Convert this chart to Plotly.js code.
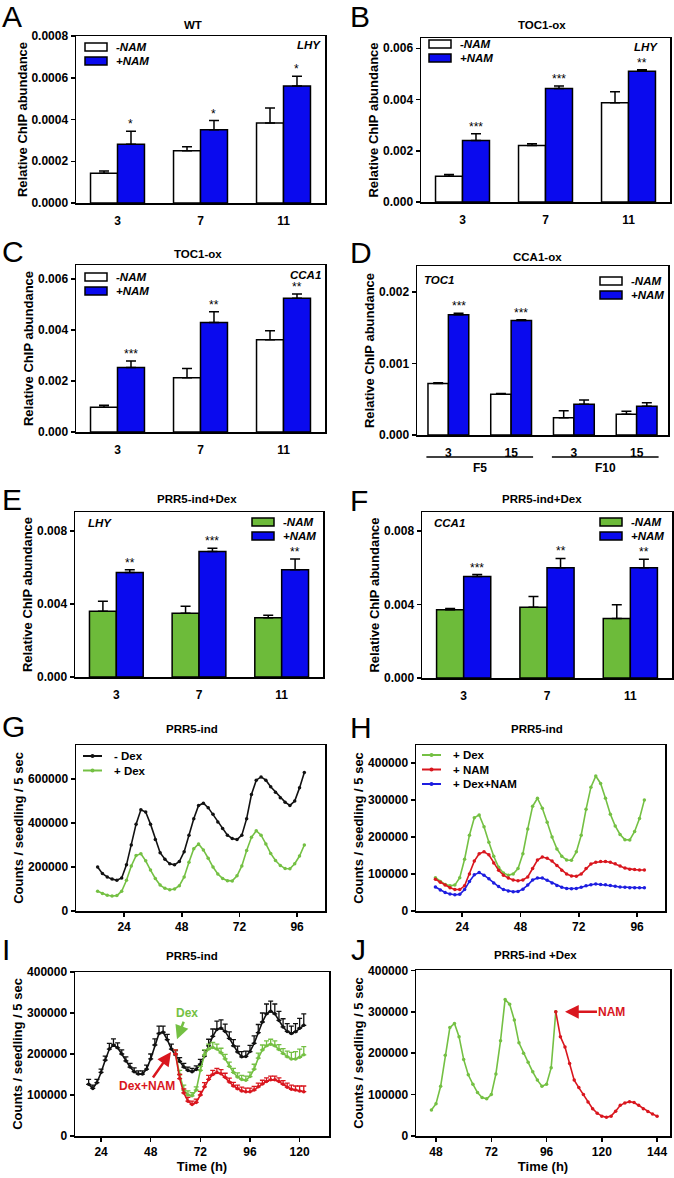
<!DOCTYPE html>
<html>
<head>
<meta charset="utf-8">
<script src="https://cdn.plot.ly/plotly-3.0.1.min.js"></script>
<style>
  body { margin: 0; background: #fff; }
  #fig { width: 674px; height: 1178px; }
</style>
</head>
<body>
<div id="fig"></div>
<script>
/* ---------------- ChIP bar data (A-F) ---------------- */
var dayLabels = ['3', '7', '11'];
var fLabels = ['3', '15', '3', '15'];
var fGroups = ['F5', 'F10'];
var namNames = ['-NAM', '+NAM'];

// A: WT, LHY
var aMinus = [0.000143, 0.00025, 0.000383];
var aMinusErr = [0.00001, 0.00002, 0.000072];
var aPlus = [0.000282, 0.000351, 0.000561];
var aPlusErr = [0.000062, 0.000044, 0.000046];
var aStars = ['*', '*', '*'];

// B: TOC1-ox, LHY
var bMinus = [0.001, 0.0022, 0.00387];
var bMinusErr = [0.00007, 0.00007, 0.00043];
var bPlus = [0.0024, 0.00443, 0.0051];
var bPlusErr = [0.00026, 0.0001, 0.00006];
var bStars = ['***', '***', '**'];

// C: TOC1-ox, CCA1
var cMinus = [0.00097, 0.00213, 0.00362];
var cMinusErr = [0.00008, 0.00036, 0.00035];
var cPlus = [0.00253, 0.00429, 0.00525];
var cPlusErr = [0.00025, 0.00043, 0.00016];
var cStars = ['***', '**', '**'];

// D: CCA1-ox, TOC1 (F5 / F10 fragments)
var dMinus = [0.00072, 0.00057, 0.00024, 0.00029];
var dMinusErr = [0.00001, 0.00001, 0.0001, 0.00004];
var dPlus = [0.00168, 0.0016, 0.00043, 0.0004];
var dPlusErr = [0.00002, 0.00001, 0.00006, 0.00005];
var dStars = ['***', '***', '', ''];

// E: PRR5-ind+Dex, LHY
var eMinus = [0.0036, 0.00349, 0.00324];
var eMinusErr = [0.00055, 0.00039, 0.00014];
var ePlus = [0.00572, 0.00688, 0.00587];
var ePlusErr = [0.00015, 0.00018, 0.00059];
var eStars = ['**', '***', '**'];

// F: PRR5-ind+Dex, CCA1
var fMinus = [0.00371, 0.00385, 0.00324];
var fMinusErr = [0.00008, 0.00059, 0.00075];
var fPlus = [0.00553, 0.00601, 0.00601];
var fPlusErr = [0.0001, 0.0005, 0.00046];
var fStars = ['***', '**', '**'];

/* ---------------- luminescence data (G-J) ---------------- */
var hoursGH = [13, 15, 17, 19, 21, 23, 25, 27, 29, 31, 33, 35, 37, 39, 41, 43, 45, 47, 49, 51,
  53, 55, 57, 59, 61, 63, 65, 67, 69, 71, 73, 75, 77, 79, 81, 83, 85, 87, 89, 91, 93, 95, 97, 99];

var minusDex = [200000, 170000, 155000, 145000, 140000, 150000, 210000, 300000, 395000, 460000,
  450000, 395000, 325000, 265000, 235000, 215000, 210000, 225000, 270000, 345000,
  420000, 480000, 490000, 470000, 440000, 405000, 375000, 345000, 330000, 325000,
  345000, 420000, 530000, 595000, 610000, 595000, 565000, 540000, 515000, 495000,
  480000, 500000, 560000, 630000];

var plusDex = [90000, 80000, 72000, 68000, 70000, 90000, 140000, 205000, 252000, 260000,
  228000, 186000, 148000, 118000, 103000, 97000, 100000, 115000, 155000, 222000,
  283000, 305000, 278000, 240000, 200000, 168000, 148000, 138000, 137000, 160000,
  205000, 275000, 335000, 365000, 345000, 305000, 262000, 230000, 207000, 193000,
  192000, 215000, 250000, 300000];

var plusNam = [86000, 78000, 70000, 63000, 58000, 58000, 68000, 100000, 135000, 155000,
  160000, 152000, 130000, 110000, 97000, 89000, 84000, 82000, 84000, 92000,
  115000, 138000, 146000, 143000, 135000, 123000, 110000, 100000, 95000, 94000,
  100000, 115000, 127000, 132000, 134000, 134000, 132000, 128000, 122000, 116000,
  113000, 112000, 111000, 111000];

var plusDexNam = [65000, 57000, 50000, 46000, 44000, 45000, 58000, 80000, 98000, 104000,
  97000, 87000, 76000, 66000, 58000, 54000, 52000, 53000, 59000, 70000,
  84000, 89000, 89000, 83000, 76000, 69000, 64000, 61000, 60000, 61000,
  64000, 68000, 71000, 73000, 72000, 71000, 69000, 67000, 65000, 64000,
  63000, 63000, 63000, 63000];

// I: control trace and treatments added at ~60 h
var hoursI = [18, 20, 22, 24, 26, 28, 30, 32, 34, 36, 38, 40, 42, 44, 46, 48, 50, 52, 54, 56,
  58, 60, 62, 64, 66, 68, 70, 72, 74, 76, 78, 80, 82, 84, 86, 88, 90, 92, 94, 96,
  98, 100, 102, 104, 106, 108, 110, 112, 114, 116, 118, 120, 122];
var ctrlI = [126000, 116000, 130000, 155000, 185000, 212000, 222000, 215000, 200000, 183000,
  168000, 157000, 151000, 151000, 163000, 188000, 222000, 250000, 253000, 235000,
  212000, 198000, 182000, 168000, 160000, 157000, 162000, 175000, 195000, 220000,
  243000, 260000, 263000, 255000, 238000, 220000, 205000, 193000, 194000, 206000,
  226000, 252000, 278000, 298000, 304000, 298000, 282000, 266000, 255000, 250000,
  254000, 263000, 270000];
var ctrlIErr = [12000, 8000, 8000, 8000, 10000, 14000, 15000, 12000, 10000, 10000,
  9000, 9000, 8000, 8000, 10000, 12000, 15000, 18000, 15000, 13000,
  12000, 10000, 9000, 9000, 8000, 8000, 9000, 12000, 14000, 16000,
  18000, 20000, 20000, 18000, 16000, 15000, 14000, 13000, 13000, 15000,
  18000, 20000, 22000, 24000, 25000, 24000, 22000, 20000, 19000, 18000,
  20000, 24000, 28000];

var hoursTreat = [60, 62, 64, 66, 68, 70, 72, 74, 76, 78, 80, 82, 84, 86, 88, 90, 92, 94, 96, 98,
  100, 102, 104, 106, 108, 110, 112, 114, 116, 118, 120, 122];
var dexI = [200000, 150000, 112000, 100000, 98000, 112000, 160000, 198000, 212000, 216000,
  212000, 203000, 188000, 170000, 155000, 144000, 138000, 136000, 145000, 163000,
  190000, 210000, 220000, 224000, 220000, 211000, 201000, 193000, 188000, 188000,
  192000, 198000];
var dexIErr = [10000, 10000, 12000, 10000, 8000, 8000, 10000, 12000, 12000, 12000,
  12000, 11000, 11000, 10000, 10000, 10000, 10000, 10000, 11000, 12000,
  12000, 12000, 12000, 12000, 12000, 12000, 12000, 14000, 16000, 18000,
  20000, 20000];
var dexNamI = [200000, 140000, 105000, 85000, 77000, 82000, 100000, 120000, 138000, 150000,
  155000, 152000, 143000, 132000, 122000, 115000, 110000, 108000, 108000, 112000,
  120000, 127000, 133000, 137000, 137000, 133000, 126000, 119000, 114000, 112000,
  110000, 108000];
var dexNamIErr = [10000, 10000, 10000, 9000, 8000, 8000, 9000, 10000, 10000, 10000,
  10000, 10000, 10000, 9000, 9000, 9000, 9000, 9000, 9000, 9000,
  9000, 9000, 9000, 9000, 9000, 9000, 9000, 10000, 10000, 10000,
  12000, 14000];

// J: +Dex, then NAM added at ~100 h
var hoursJDex = [46, 48, 50, 52, 54, 56, 58, 60, 62, 64, 66, 68, 70, 72, 74, 76, 78, 80, 82, 84,
  86, 88, 90, 92, 94, 96, 98, 100];
var dexJ = [63000, 78000, 120000, 195000, 262000, 272000, 240000, 185000, 148000, 125000,
  105000, 93000, 90000, 100000, 150000, 230000, 330000, 318000, 280000, 225000,
  200000, 178000, 155000, 135000, 120000, 125000, 165000, 300000];
var hoursJNam = [100, 102, 104, 106, 108, 110, 112, 114, 116, 118, 120, 122, 124, 126, 128, 130,
  132, 134, 136, 138, 140, 142, 144];
var namJ = [300000, 240000, 215000, 175000, 135000, 117000, 100000, 82000, 66000, 55000,
  48000, 45000, 48000, 60000, 74000, 80000, 83000, 81000, 74000, 66000,
  59000, 53000, 48000];

/* ---------------- styling ---------------- */
var FONT = 'Liberation Sans, Arial, Helvetica, sans-serif';
var W = 674, H = 1178;
var BLUE = '#0a0aee';
var GREEN = '#6dbb3a';
var LGREEN = '#74c043';
var RED = '#d9161e';
var LBLUE = '#1d1de0';
var BLACK = '#111111';

function px(x) { return x / W; }
function py(y) { return 1 - y / H; }
function sfx(n) { return n === 1 ? '' : String(n); }

var traces = [];
var layout = {
  width: W, height: H,
  margin: {l: 0, r: 0, t: 0, b: 0},
  paper_bgcolor: '#fff', plot_bgcolor: '#fff',
  showlegend: false,
  barmode: 'group', bargap: 0.35, bargroupgap: 0,
  font: {family: FONT, size: 12, color: '#000'},
  annotations: [], shapes: []
};

function addAxes(n, box, xo, yo) {
  var base = function () {
    return {
      showline: true, linecolor: '#000', linewidth: 1.5, mirror: true,
      showgrid: false, zeroline: false, fixedrange: true,
      tickfont: {family: FONT, size: 12, weight: 'bold', color: '#000'},
      tickcolor: '#000', tickwidth: 1.5
    };
  };
  var xa = base(), ya = base();
  xa.domain = [px(box[0]), px(box[1])];
  ya.domain = [py(box[3]), py(box[2])];
  xa.anchor = 'y' + sfx(n);
  ya.anchor = 'x' + sfx(n);
  Object.assign(xa, xo);
  Object.assign(ya, yo);
  layout['xaxis' + sfx(n)] = xa;
  layout['yaxis' + sfx(n)] = ya;
}

function yTitle(text) {
  return {text: text, font: {family: FONT, size: 13, weight: 'bold'}, standoff: 1};
}

function text(x, y, str, opts) {
  var a = {xref: 'paper', yref: 'paper', x: px(x), y: py(y), text: str, showarrow: false,
    xanchor: 'center', yanchor: 'middle', font: {family: FONT, size: 11.5, color: '#000'}};
  Object.assign(a, opts || {});
  layout.annotations.push(a);
}

function barPanel(n, box, cats, minus, minusErr, plus, plusErr, stars, minusColor, yRange, dtick, fmt) {
  var xs = cats.map(function (c, i) { return i; });
  var xr = 'x' + sfx(n), yr = 'y' + sfx(n);
  var none = minus.map(function () { return 0; });
  [[minus, minusErr, minusColor], [plus, plusErr, BLUE]].forEach(function (s, k) {
    traces.push({
      type: 'bar', x: xs, y: s[0], xaxis: xr, yaxis: yr, name: namNames[k],
      marker: {color: s[2], line: {color: '#000', width: 1.5}},
      error_y: {type: 'data', symmetric: false, array: s[1], arrayminus: none,
        color: '#000', thickness: 1.5, width: 5}
    });
  });
  addAxes(n, box,
    {range: [-0.5, cats.length - 0.5], tickvals: xs, ticktext: cats, ticks: '', ticklabelstandoff: 6},
    {range: yRange, tick0: 0, dtick: dtick, tickformat: fmt, ticks: 'outside', ticklen: 4,
      title: yTitle('Relative ChIP abundance')});
  var off = (1 - layout.bargap) / 4;
  stars.forEach(function (s, i) {
    if (!s) return;
    layout.annotations.push({xref: xr, yref: yr, x: i + off, y: plus[i] + plusErr[i], text: s,
      showarrow: false, yanchor: 'bottom', yshift: -2, font: {family: FONT, size: 12, color: '#000'}});
  });
}

function barLegend(left, top, minusColor) {
  [minusColor, BLUE].forEach(function (c, k) {
    var t = top + k * 14;
    layout.shapes.push({type: 'rect', xref: 'paper', yref: 'paper',
      x0: px(left), x1: px(left + 22), y0: py(t + 8), y1: py(t),
      fillcolor: c, line: {color: '#000', width: 1.5}});
    text(left + 29, t + 4, '<b><i>' + namNames[k] + '</i></b>', {xanchor: 'left', font: {family: FONT, size: 11.5}});
  });
}

function lineLegend(left, top, items) {
  items.forEach(function (it, k) {
    var y = top + k * 14.5;
    layout.shapes.push({type: 'line', xref: 'paper', yref: 'paper',
      x0: px(left), x1: px(left + 19), y0: py(y), y1: py(y), line: {color: it[1], width: 2}});
    layout.shapes.push({type: 'circle', xref: 'paper', yref: 'paper',
      x0: px(left + 7.5), x1: px(left + 11.5), y0: py(y + 2), y1: py(y - 2),
      fillcolor: it[1], line: {width: 0}});
    text(left + 29, y, '<b>' + it[0] + '</b>', {xanchor: 'left', font: {family: FONT, size: 11.5}});
  });
}

function linePanel(n, box, xRange, yRange, dtick, series, xTitle) {
  var xr = 'x' + sfx(n), yr = 'y' + sfx(n);
  series.forEach(function (s) {
    var t = {type: 'scatter', mode: 'lines+markers', x: s.x, y: s.y, xaxis: xr, yaxis: yr,
      name: s.name, line: {color: s.color, width: 1.6},
      marker: {color: s.color, size: 3.5}};
    if (s.err) {
      t.error_y = {type: 'data', symmetric: false, array: s.err,
        arrayminus: s.err.map(function () { return 0; }), color: s.color, thickness: 1.3, width: 2.5};
    }
    traces.push(t);
  });
  var xo = {range: xRange, tick0: 0, dtick: 24, ticks: 'outside', ticklen: 4};
  if (xTitle) xo.title = {text: xTitle, font: {family: FONT, size: 13, weight: 'bold'}, standoff: 4};
  addAxes(n, box, xo,
    {range: yRange, tick0: 0, dtick: dtick, tickformat: 'd', ticks: 'outside', ticklen: 4,
      title: yTitle('Counts / seedling / 5 sec')});
}

/* ---------------- panels ---------------- */
barPanel(1, [76, 325, 36, 203], dayLabels, aMinus, aMinusErr, aPlus, aPlusErr, aStars, '#fff', [0, 0.0008], 0.0002, '.4f');
barPanel(2, [421, 670, 38, 202], dayLabels, bMinus, bMinusErr, bPlus, bPlusErr, bStars, '#fff', [0, 0.0064], 0.002, '.3f');
barPanel(3, [76, 325, 265, 432], dayLabels, cMinus, cMinusErr, cPlus, cPlusErr, cStars, '#fff', [0, 0.00655], 0.002, '.3f');
barPanel(4, [417, 668, 266, 435], fLabels, dMinus, dMinusErr, dPlus, dPlusErr, dStars, '#fff', [0, 0.00236], 0.001, '.3f');
barPanel(5, [75, 323, 512, 677], dayLabels, eMinus, eMinusErr, ePlus, ePlusErr, eStars, GREEN, [0, 0.00904], 0.004, '.3f');
barPanel(6, [422, 672, 512, 678], dayLabels, fMinus, fMinusErr, fPlus, fPlusErr, fStars, GREEN, [0, 0.00904], 0.004, '.3f');

linePanel(7, [76, 325, 745, 911], [4, 107.6], [0, 755000], 200000, [
  {x: hoursGH, y: minusDex, color: BLACK, name: '- Dex'},
  {x: hoursGH, y: plusDex, color: LGREEN, name: '+ Dex'}
]);
linePanel(8, [416, 665, 745, 911], [5, 107.5], [0, 449000], 100000, [
  {x: hoursGH, y: plusDex, color: LGREEN, name: '+ Dex'},
  {x: hoursGH, y: plusNam, color: RED, name: '+ NAM'},
  {x: hoursGH, y: plusDexNam, color: LBLUE, name: '+ Dex+NAM'}
]);
linePanel(9, [75, 329, 972, 1136], [11.4, 134.2], [0, 400000], 100000, [
  {x: hoursI, y: ctrlI, err: ctrlIErr, color: BLACK, name: 'control'},
  {x: hoursTreat, y: dexI, err: dexIErr, color: LGREEN, name: 'Dex'},
  {x: hoursTreat, y: dexNamI, err: dexNamIErr, color: RED, name: 'Dex+NAM'}
], 'Time (h)');
linePanel(10, [416, 670, 970, 1136], [39.3, 149.6], [0, 401000], 100000, [
  {x: hoursJDex, y: dexJ, color: LGREEN, name: '+Dex'},
  {x: hoursJNam, y: namJ, color: RED, name: '+Dex+NAM'}
], 'Time (h)');

/* ---------------- legends ---------------- */
barLegend(85, 43, '#fff');
barLegend(429, 40, '#fff');
barLegend(85, 273, '#fff');
barLegend(600, 277, '#fff');
barLegend(252, 518, GREEN);
barLegend(600, 518, GREEN);
lineLegend(83, 756, [['- Dex', BLACK], ['+ Dex', LGREEN]]);
lineLegend(422, 755, [['+ Dex', LGREEN], ['+ NAM', RED], ['+ Dex+NAM', LBLUE]]);

/* ---------------- D: fragment group labels ---------------- */
fGroups.forEach(function (g, k) {
  layout.shapes.push({type: 'line', xref: 'x4', yref: 'paper',
    x0: k * 2 - 0.35, x1: k * 2 + 1.35, y0: py(457), y1: py(457), line: {color: '#000', width: 1.5}});
  layout.annotations.push({xref: 'x4', yref: 'paper', x: k * 2 + 0.5, y: py(468), text: '<b>' + g + '</b>',
    showarrow: false, yanchor: 'middle', font: {family: FONT, size: 12}});
});

/* ---------------- titles, gene names, panel letters ---------------- */
var titles = [['WT', 193, 25], ['TOC1-ox', 542, 25], ['TOC1-ox', 198, 254], ['CCA1-ox', 537, 257],
  ['PRR5-ind+Dex', 197, 499], ['PRR5-ind+Dex', 542, 499], ['PRR5-ind', 192, 729], ['PRR5-ind', 537, 729],
  ['PRR5-ind', 192, 956], ['PRR5-ind +Dex', 535, 955]];
titles.forEach(function (t) { text(t[1], t[2], '<b>' + t[0] + '</b>'); });

text(323, 45, '<b><i>LHY</i></b>', {xanchor: 'right'});
text(660, 47, '<b><i>LHY</i></b>', {xanchor: 'right'});
text(323, 275, '<b><i>CCA1</i></b>', {xanchor: 'right'});
text(422, 280, '<b><i>TOC1</i></b>', {xanchor: 'left'});
text(86, 523, '<b><i>LHY</i></b>', {xanchor: 'left'});
text(432, 523, '<b><i>CCA1</i></b>', {xanchor: 'left'});

var letters = [['A', 1, 17], ['B', 349, 17], ['C', 1, 251], ['D', 349, 253], ['E', 1, 499],
  ['F', 349, 500], ['G', 1, 726], ['H', 349, 727], ['I', 1, 949], ['J', 350, 950]];
letters.forEach(function (l) {
  text(l[1], l[2], l[0], {xanchor: 'left', borderpad: 0, font: {family: FONT, size: 30, color: '#000'}});
});

/* ---------------- treatment arrows ---------------- */
layout.annotations.push({xref: 'x9', yref: 'y9', x: 60.7, y: 236000, ax: 10, ay: -26,
  text: '<b>Dex</b>', showarrow: true, arrowhead: 2, arrowsize: 1.1, arrowwidth: 2.5,
  arrowcolor: LGREEN, font: {family: FONT, size: 12, color: LGREEN}});
layout.annotations.push({xref: 'x9', yref: 'y9', x: 57.8, y: 205000, ax: -24, ay: 34,
  text: '<b>Dex+NAM</b>', showarrow: true, arrowhead: 2, arrowsize: 1.1, arrowwidth: 2.5,
  arrowcolor: RED, font: {family: FONT, size: 12, color: RED}});
layout.annotations.push({xref: 'x10', yref: 'y10', x: 104, y: 300000, ax: 47, ay: 0,
  text: '<b>NAM</b>', showarrow: true, arrowhead: 2, arrowsize: 1.1, arrowwidth: 2.5,
  arrowcolor: RED, font: {family: FONT, size: 12, color: RED}});

Plotly.newPlot('fig', traces, layout, {displayModeBar: false, staticPlot: true});
</script>
</body>
</html>
